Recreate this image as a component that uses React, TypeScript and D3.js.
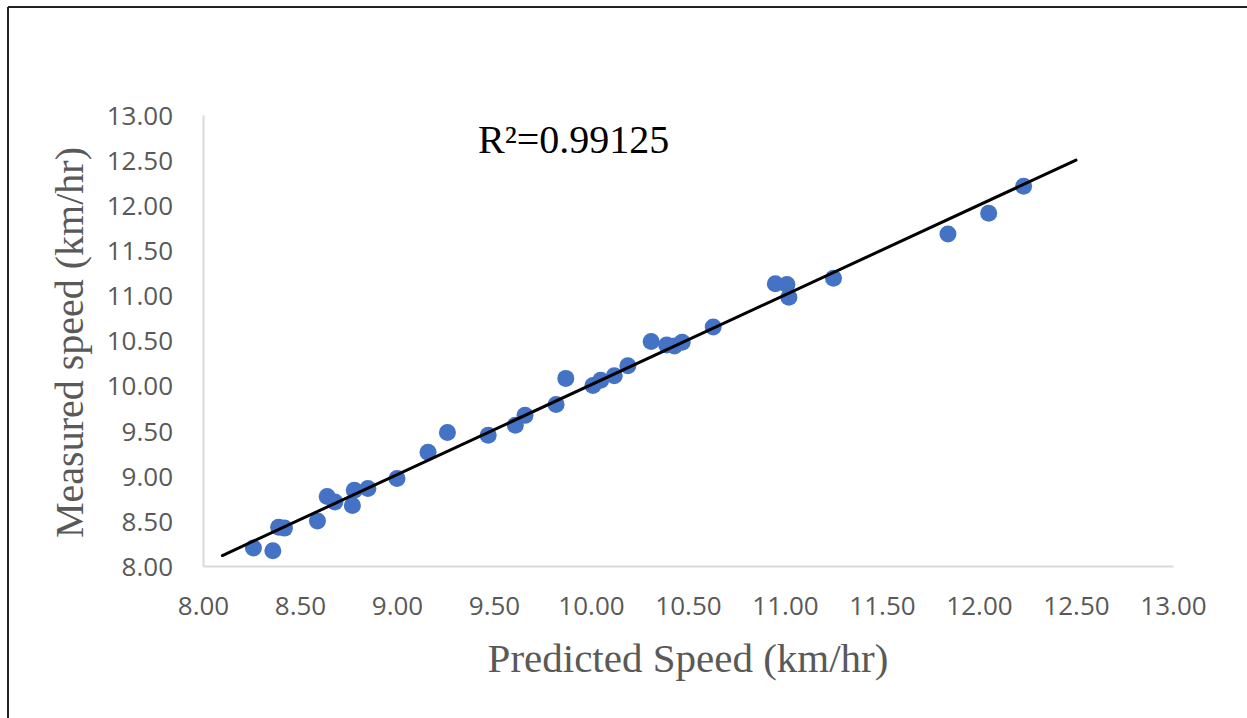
import React, { useEffect, useRef } from 'react';
import * as d3 from 'd3';

// predicted vs measured speed (km/hr)
const predicted = [
  8.26, 8.36, 8.39, 8.42, 8.59, 8.64, 8.68, 8.77, 8.78, 8.85,
  9.0, 9.16, 9.26, 9.47, 9.61, 9.66, 9.82, 9.87, 10.01, 10.05,
  10.12, 10.19, 10.31, 10.39, 10.43, 10.47, 10.63, 10.95, 11.01, 11.02,
  11.25, 11.84, 12.05, 12.23
];
const measured = [
  8.2, 8.17, 8.43, 8.42, 8.5, 8.77, 8.71, 8.67, 8.84, 8.86,
  8.97, 9.26, 9.48, 9.45, 9.56, 9.67, 9.79, 10.08, 10.0, 10.06,
  10.11, 10.22, 10.49, 10.45, 10.44, 10.48, 10.65, 11.13, 11.12, 10.98,
  11.19, 11.68, 11.91, 12.21
];

const xTicks = [8, 8.5, 9, 9.5, 10, 10.5, 11, 11.5, 12, 12.5, 13];
const yTicks = [8, 8.5, 9, 9.5, 10, 10.5, 11, 11.5, 12, 12.5, 13];

// linear trendline drawn over the points
const trendSlope = 0.9963;
const trendIntercept = 0.046;
const trendRange = [8.1, 12.5];
const r2Label = 'R\u00b2=0.99125';

const width = 1247;
const height = 718;

const App = () => {
  const ref = useRef<SVGSVGElement>(null);

  const graph = () => {
    const svg = d3.select(ref.current);
    svg.selectAll('*').remove();

    const x = d3.scaleLinear().domain([8, 13]).range([203, 1173]);
    const y = d3.scaleLinear().domain([8, 13]).range([566, 115]);

    svg.append('rect')
      .attr('width', width)
      .attr('height', height)
      .attr('fill', '#ffffff');

    // frame edges of the pasted figure
    svg.append('line')
      .attr('x1', 8).attr('x2', width)
      .attr('y1', 7).attr('y2', 7)
      .attr('stroke', '#222').attr('stroke-width', 2);
    svg.append('line')
      .attr('x1', 8).attr('x2', 8)
      .attr('y1', 7).attr('y2', height)
      .attr('stroke', '#222').attr('stroke-width', 2);

    const xAxis = svg.append('g')
      .attr('transform', `translate(0, ${y(8)})`)
      .call(d3.axisBottom(x).tickValues(xTicks).tickSize(0).tickSizeOuter(0).tickFormat(d3.format('.2f')));

    const yAxis = svg.append('g')
      .attr('transform', `translate(${x(8)}, 0)`)
      .call(d3.axisLeft(y).tickValues(yTicks).tickSize(0).tickSizeOuter(0).tickFormat(d3.format('.2f')));

    [xAxis, yAxis].forEach((a) => {
      a.select('.domain').attr('stroke', '#d9d9d9').attr('stroke-width', 2);
      a.selectAll('text')
        .attr('fill', '#595959')
        .style('font-family', '"Open Sans", "Liberation Sans", sans-serif')
        .style('font-size', '26px');
    });

    xAxis.selectAll('text').attr('y', 49).attr('dy', 0);
    yAxis.selectAll('text').attr('x', -30).attr('dy', '0.36em');

    const line = d3.line<number>()
      .x((d) => x(d))
      .y((d) => y(trendSlope * d + trendIntercept));

    svg.append('g')
      .selectAll('circle')
      .data(predicted)
      .enter().append('circle')
      .attr('cx', (d) => x(d))
      .attr('cy', (d, i) => y(measured[i]))
      .attr('r', 8.5)
      .attr('fill', '#4472c4');

    svg.append('path')
      .attr('d', line(trendRange))
      .attr('fill', 'none')
      .attr('stroke', '#000')
      .attr('stroke-width', 3)
      .attr('stroke-linecap', 'round');

    svg.append('text')
      .attr('x', 478)
      .attr('y', 153)
      .attr('fill', '#000')
      .style('font-family', '"Liberation Serif", "Times New Roman", serif')
      .style('font-size', '40px')
      .text(r2Label);

    svg.append('text')
      .attr('x', (x(8) + x(13)) / 2 - 0)
      .attr('y', 672)
      .attr('text-anchor', 'middle')
      .attr('fill', '#595959')
      .style('font-family', '"Liberation Serif", "Times New Roman", serif')
      .style('font-size', '41px')
      .text('Predicted Speed (km/hr)');

    svg.append('text')
      .attr('transform', `translate(83, ${(y(8) + y(13)) / 2 + 2}) rotate(-90)`)
      .attr('text-anchor', 'middle')
      .attr('fill', '#595959')
      .style('font-family', '"Liberation Serif", "Times New Roman", serif')
      .style('font-size', '40px')
      .text('Measured speed (km/hr)');
  };

  useEffect(() => graph());

  return (
    <svg
      ref={ref}
      width={width}
      height={height}
      style={{ position: 'absolute', left: 0, top: 0, display: 'block' }}
    ></svg>
  );
};

export default App;
